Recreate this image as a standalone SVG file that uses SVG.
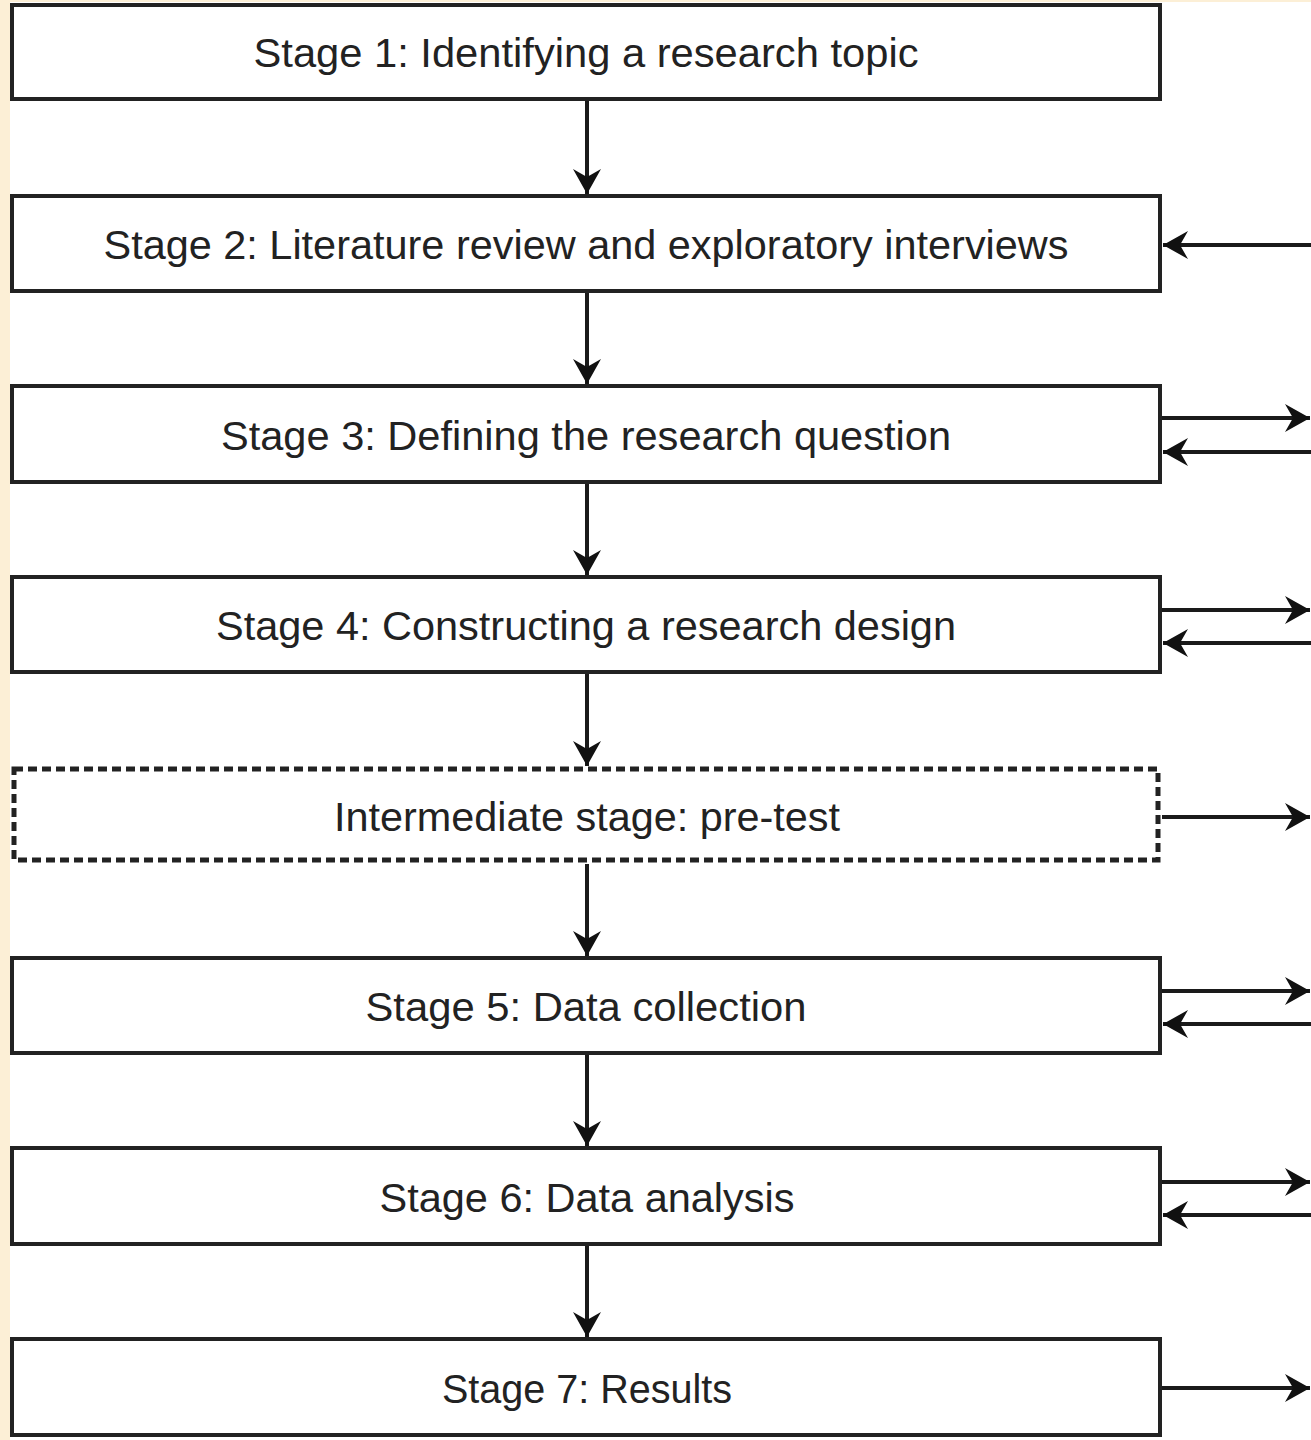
<svg xmlns="http://www.w3.org/2000/svg" width="1311" height="1440" viewBox="0 0 1311 1440">
<style>
.box{fill:#fff;stroke:#222;stroke-width:4}
.dash{fill:#fff;stroke:#222;stroke-width:5;stroke-dasharray:9 5}
.lbl{font-family:"Liberation Sans",Arial,sans-serif;font-size:40px;fill:#222;text-anchor:middle}
.con{stroke:#1a1a1a;stroke-width:4;fill:none;marker-end:url(#ah)}
</style>
<defs>
<marker id="ah" markerUnits="userSpaceOnUse" markerWidth="30" markerHeight="32" viewBox="-26 -16 28 32" refX="0" refY="0" orient="auto">
<path d="M0,0 L-25,-14 L-17,0 L-25,14 Z" fill="#111"/>
</marker>
</defs>
<rect x="0" y="0" width="1311" height="1440" fill="#fff"/>
<rect x="0" y="0" width="10" height="1440" fill="#fcefd6"/>
<rect x="0" y="0" width="1311" height="2" fill="#fcefd6"/>

<g id="connectors">
<line class="con" x1="587" y1="101" x2="587" y2="194"/>
<line class="con" x1="587" y1="293" x2="587" y2="384"/>
<line class="con" x1="587" y1="484" x2="587" y2="575"/>
<line class="con" x1="587" y1="674" x2="587" y2="766"/>
<line class="con" x1="587" y1="864" x2="587" y2="956"/>
<line class="con" x1="587" y1="1055" x2="587" y2="1146"/>
<line class="con" x1="587" y1="1246" x2="587" y2="1337"/>

<line class="con" x1="1311" y1="245" x2="1163" y2="245"/>
<line class="con" x1="1162" y1="418" x2="1310" y2="418"/>
<line class="con" x1="1311" y1="452" x2="1163" y2="452"/>
<line class="con" x1="1162" y1="610" x2="1310" y2="610"/>
<line class="con" x1="1311" y1="643" x2="1163" y2="643"/>
<line class="con" x1="1162" y1="817" x2="1310" y2="817"/>
<line class="con" x1="1162" y1="991" x2="1310" y2="991"/>
<line class="con" x1="1311" y1="1024" x2="1163" y2="1024"/>
<line class="con" x1="1162" y1="1182" x2="1310" y2="1182"/>
<line class="con" x1="1311" y1="1215" x2="1163" y2="1215"/>
<line class="con" x1="1162" y1="1388" x2="1310" y2="1388"/>
</g>

<g id="stage1">
<rect class="box" x="12" y="5" width="1148" height="94"/>
<text class="lbl" x="586" y="67" textLength="665" lengthAdjust="spacingAndGlyphs">Stage 1: Identifying a research topic</text>
</g>
<g id="stage2">
<rect class="box" x="12" y="196" width="1148" height="95"/>
<text class="lbl" x="586" y="259" textLength="965" lengthAdjust="spacingAndGlyphs">Stage 2: Literature review and exploratory interviews</text>
</g>
<g id="stage3">
<rect class="box" x="12" y="386" width="1148" height="96"/>
<text class="lbl" x="586" y="450" textLength="730" lengthAdjust="spacingAndGlyphs">Stage 3: Defining the research question</text>
</g>
<g id="stage4">
<rect class="box" x="12" y="577" width="1148" height="95"/>
<text class="lbl" x="586" y="640" textLength="740" lengthAdjust="spacingAndGlyphs">Stage 4: Constructing a research design</text>
</g>
<g id="pretest">
<rect class="dash" x="14" y="769" width="1144" height="91"/>
<text class="lbl" x="587" y="831" textLength="506" lengthAdjust="spacingAndGlyphs">Intermediate stage: pre-test</text>
</g>
<g id="stage5">
<rect class="box" x="12" y="958" width="1148" height="95"/>
<text class="lbl" x="586" y="1021" textLength="441" lengthAdjust="spacingAndGlyphs">Stage 5: Data collection</text>
</g>
<g id="stage6">
<rect class="box" x="12" y="1148" width="1148" height="96"/>
<text class="lbl" x="587" y="1212" textLength="415" lengthAdjust="spacingAndGlyphs">Stage 6: Data analysis</text>
</g>
<g id="stage7">
<rect class="box" x="12" y="1339" width="1148" height="96"/>
<text class="lbl" x="587" y="1403" textLength="290" lengthAdjust="spacingAndGlyphs">Stage 7: Results</text>
</g>
</svg>
